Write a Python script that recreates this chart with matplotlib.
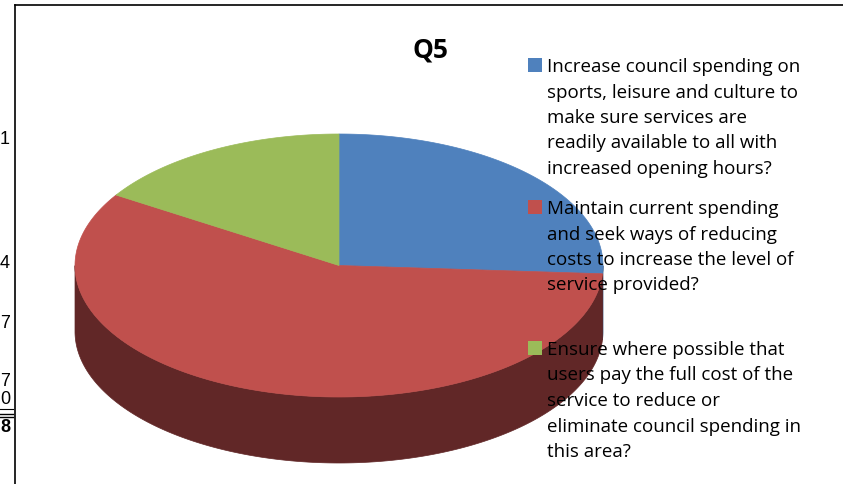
import matplotlib.pyplot as plt
import numpy as np
from matplotlib.patches import Polygon, Rectangle

# Q5 responses
labels = [
    ['Increase council spending on', 'sports, leisure and culture to',
     'make sure services are', 'readily available to all with',
     'increased opening hours?'],
    ['Maintain current spending', 'and seek ways of reducing',
     'costs to increase the level of', 'service provided?'],
    ['Ensure where possible that', 'users pay the full cost of the',
     'service to reduce or', 'eliminate council spending in', 'this area?'],
]
counts = [13, 29, 8]
top_colors = ['#4F81BD', '#C0504D', '#9BBB59']
side_colors = ['#2B4A70', '#612727', '#5B7233']

# spreadsheet cells peeking in at the left edge
cell_text = ['1', '4', '7', '7', '0']
cell_y = [139, 263, 323, 382, 400]
total_text = '8'

W, H = 843, 484
fig = plt.figure(figsize=(W / 100, H / 100), dpi=100)
ax = fig.add_axes([0, 0, 1, 1])
ax.set_xlim(0, W)
ax.set_ylim(H, 0)
ax.axis('off')

# 3d pie geometry (pixels)
cx, cy = 339, 265.5
a, b = 264, 131.5
depth = 66

fracs = np.array(counts) / sum(counts)
starts = 90 - 360 * np.concatenate([[0], np.cumsum(fracs)[:-1]])
ends = starts - 360 * fracs


def arc(t):
    r = np.radians(t)
    return cx + a * np.cos(r), cy - b * np.sin(r)


# side walls (front half only)
for s, e, col in zip(starts, ends, side_colors):
    t = np.linspace(s, e, 400)
    front = np.sin(np.radians(t)) <= 0
    if not front.any():
        continue
    idx = np.where(front)[0]
    runs = np.split(idx, np.where(np.diff(idx) > 1)[0] + 1)
    for run in runs:
        x, y = arc(t[run])
        pts = np.concatenate([np.column_stack([x, y]),
                              np.column_stack([x[::-1], y[::-1] + depth])])
        ax.add_patch(Polygon(pts, closed=True, facecolor=col, edgecolor=col, lw=0.5))

# top faces
for s, e, col in zip(starts, ends, top_colors):
    t = np.linspace(s, e, 300)
    x, y = arc(t)
    pts = np.vstack([[cx, cy], np.column_stack([x, y])])
    ax.add_patch(Polygon(pts, closed=True, facecolor=col, edgecolor=col, lw=0.5))

ax.text(430, 58, 'Q5', fontsize=19, fontweight='bold', family='Open Sans',
        ha='center', va='baseline')

# legend
entry_base = [72, 214, 355]
line_step = 25.5
for lines, col, y0 in zip(labels, top_colors, entry_base):
    ax.add_patch(Rectangle((528, y0 - 14), 13.5, 13.5, facecolor=col, edgecolor='none'))
    for i, line in enumerate(lines):
        ax.text(547, y0 + i * line_step, line, fontsize=13.5, family='Open Sans',
                ha='left', va='baseline')

# chart frame
ax.plot([15, 15], [5, H], color='black', lw=1.2)
ax.plot([15, W], [5, 5], color='black', lw=1.2)

for txt, y in zip(cell_text, cell_y):
    ax.text(10, y, txt, fontsize=13, family='Liberation Sans', ha='right', va='center')
ax.plot([0, 13], [409, 409], color='black', lw=0.8)
ax.plot([0, 13], [414, 414], color='black', lw=1.0)
ax.plot([0, 13], [417, 417], color='black', lw=1.0)
ax.text(10, 428, total_text, fontsize=13, fontweight='bold', family='Liberation Sans',
        ha='right', va='center')

fig.savefig('out.png', dpi=100)
